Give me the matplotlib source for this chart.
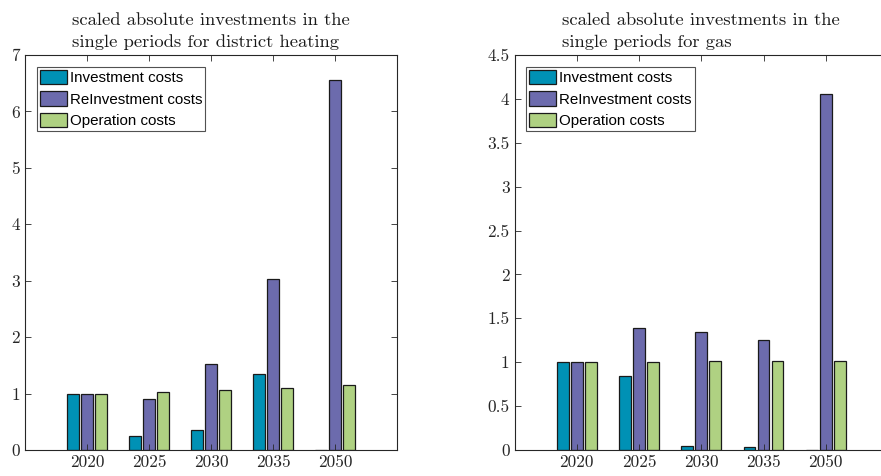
import matplotlib
matplotlib.use("Agg")
import matplotlib.pyplot as plt
import numpy as np

years = ["2020", "2025", "2030", "2035", "2050"]
series_names = ["Investment costs", "ReInvestment costs", "Operation costs"]
colors = ["#0091b5", "#6c6bad", "#afd182"]

dh_invest = [1.0, 0.24, 0.355, 1.35, 0.0]
dh_reinvest = [1.0, 0.905, 1.52, 3.03, 6.55]
dh_operation = [1.0, 1.03, 1.066, 1.095, 1.155]

gas_invest = [1.0, 0.84, 0.045, 0.035, 0.0]
gas_reinvest = [1.0, 1.39, 1.34, 1.25, 4.06]
gas_operation = [1.0, 1.0, 1.01, 1.01, 1.01]

titles = ["scaled absolute investments in the\nsingle periods for district heating",
          "scaled absolute investments in the\nsingle periods for gas"]

W, H = 881, 476
fig = plt.figure(figsize=(W / 100, H / 100), dpi=100)

serif = "cmr10"
plt.rcParams["axes.formatter.use_mathtext"] = True

def make_axes(rect, data, ylim, yticks, title):
    ax = fig.add_axes(rect)
    x = np.arange(1, len(years) + 1)
    offs = [-0.225, 0.0, 0.225]
    for vals, off, c, name in zip(data, offs, colors, series_names):
        ax.bar(x + off, vals, width=0.185, color=c, edgecolor="#1a1a1a",
               linewidth=0.9, label=name)
    ax.set_xlim(0, 6)
    ax.set_ylim(*ylim)
    ax.set_xticks(x)
    ax.set_xticklabels(years, fontfamily=serif, fontsize=12.5)
    ax.set_yticks(yticks)
    ax.set_yticklabels([("%g" % t) for t in yticks], fontfamily=serif, fontsize=12.5)
    ax.tick_params(direction="in", length=4, color="#262626", labelcolor="#262626",
                   top=True, right=True, width=0.6)
    for s in ax.spines.values():
        s.set_color("#262626")
        s.set_linewidth(0.8)
    ax.set_title(title, fontfamily=serif, fontsize=13.4, color="#1a1a1a",
                 pad=6, loc="center", multialignment="left", linespacing=1.45)
    leg = ax.legend(loc="upper left", bbox_to_anchor=(0.031, 0.97),
                    prop={"family": "Liberation Sans", "size": 10.9},
                    frameon=True, fancybox=False, edgecolor="#262626",
                    handlelength=1.8, handleheight=1.1, handletextpad=0.2,
                    labelspacing=0.4, borderpad=0.2, borderaxespad=0.0)
    leg.get_frame().set_linewidth(0.8)
    for p in leg.get_patches():
        p.set_edgecolor("#1a1a1a")
    return ax

# left axes: x 25..397, y 55..450 px
l1, r1 = 25 / W, 397 / W
b, t = (H - 450) / H, (H - 55) / H
ax1 = make_axes([l1, b, r1 - l1, t - b],
                [dh_invest, dh_reinvest, dh_operation],
                (0, 7), list(range(0, 8)), titles[0])

# right axes: x 514..888 px (clipped by figure edge)
l2, r2 = 514.5 / W, 888 / W
ax2 = make_axes([l2, b, r2 - l2, t - b],
                [gas_invest, gas_reinvest, gas_operation],
                (0, 4.5), list(np.arange(0, 4.51, 0.5)), titles[1])

fig.savefig("out.png", dpi=100)
